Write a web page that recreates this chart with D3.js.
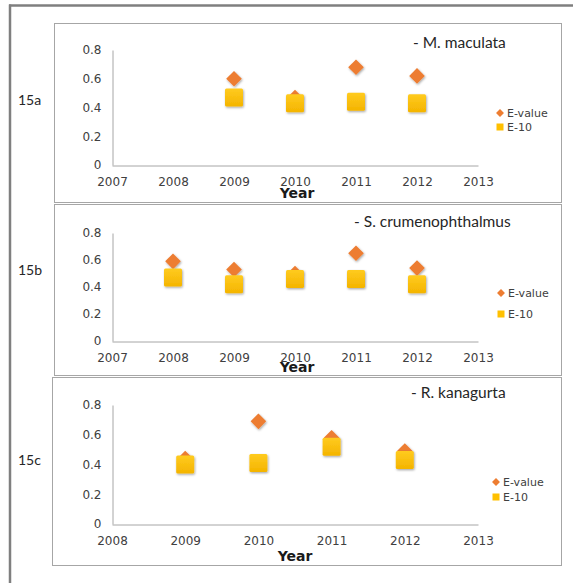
<!DOCTYPE html>
<html>
<head>
<meta charset="utf-8">
<script src="https://cdn.jsdelivr.net/npm/d3@7/dist/d3.min.js"></script>
<style>
  html, body { margin: 0; padding: 0; background: #fff; }
  svg { display: block; }
</style>
</head>
<body>
<script>
// E-values per species and year
const yearsA = [2009, 2010, 2011, 2012];
const eValueA = [0.60, 0.47, 0.68, 0.62];
const e10A = [0.47, 0.43, 0.44, 0.43];

const yearsB = [2008, 2009, 2010, 2011, 2012];
const eValueB = [0.59, 0.53, 0.50, 0.65, 0.54];
const e10B = [0.47, 0.42, 0.46, 0.46, 0.42];

const yearsC = [2009, 2010, 2011, 2012];
const eValueC = [0.44, 0.69, 0.58, 0.49];
const e10C = [0.40, 0.41, 0.52, 0.43];

const yTicks = [0, 0.2, 0.4, 0.6, 0.8];
const seriesNames = ["E-value", "E-10"];

const W = 573, H = 583;
const svg = d3.select("body").append("svg").attr("width", W).attr("height", H);

const defs = svg.append("defs");
const shadow = defs.append("filter").attr("id", "shadow")
  .attr("x", "-40%").attr("y", "-40%").attr("width", "180%").attr("height", "180%");
shadow.append("feDropShadow").attr("dx", 0.8).attr("dy", 1.2)
  .attr("stdDeviation", 1.2).attr("flood-color", "#000").attr("flood-opacity", 0.35);
const grad = defs.append("linearGradient").attr("id", "sqFill")
  .attr("x1", 0).attr("y1", 0).attr("x2", 0).attr("y2", 1);
grad.append("stop").attr("offset", "0%").attr("stop-color", "#FFCB1F");
grad.append("stop").attr("offset", "100%").attr("stop-color", "#F4B400");

// outer frame
svg.append("line").attr("x1", 9).attr("x2", W).attr("y1", 5.5).attr("y2", 5.5)
  .attr("stroke", "#7f7f7f").attr("stroke-width", 2.5);
svg.append("line").attr("x1", 10).attr("x2", 10).attr("y1", 4.5).attr("y2", H)
  .attr("stroke", "#7f7f7f").attr("stroke-width", 2.5);

const tickFont = "'DejaVu Sans', sans-serif";
const diamond = d3.symbol().type(d3.symbolDiamond2);

function drawPanel(p) {
  const g = svg.append("g");
  g.append("rect").attr("x", p.box[0] + 0.5).attr("y", p.box[1] + 0.5)
    .attr("width", p.box[2] - p.box[0]).attr("height", p.box[3] - p.box[1])
    .attr("fill", "#fff").attr("stroke", "#a6a6a6").attr("stroke-width", 1);

  const x = d3.scaleLinear().domain(p.xDomain).range([112, 478]);
  const y = d3.scaleLinear().domain([0, 0.8]).range([p.y0, p.y8]);

  // axes
  const yAxis = d3.axisLeft(y).tickValues(yTicks).tickSize(0).tickPadding(11)
    .tickFormat(d => d === 0 ? "0" : d3.format(".1f")(d));
  const ya = g.append("g").attr("transform", "translate(112.5,0)").call(yAxis);
  ya.select(".domain").attr("stroke", "#a6a6a6");
  ya.selectAll("text").attr("font-family", tickFont).attr("font-size", 12).attr("fill", "#404040");

  const xAxis = d3.axisBottom(x).ticks(p.xDomain[1] - p.xDomain[0]).tickSize(0)
    .tickPadding(12).tickFormat(d3.format("d"));
  const xa = g.append("g").attr("transform", `translate(0,${p.y0 + 0.5})`).call(xAxis);
  xa.select(".domain").attr("stroke", "#a6a6a6");
  xa.selectAll("text").attr("font-family", tickFont).attr("font-size", 12).attr("fill", "#404040");

  // E-value diamonds (behind), E-10 squares (front)
  g.append("g").selectAll("path").data(p.years.map((yr, i) => [yr, p.eValue[i]]))
    .join("path")
    .attr("d", diamond.size(155))
    .attr("transform", d => `translate(${x(d[0])},${y(d[1])})`)
    .attr("fill", "#ED7D31").attr("filter", "url(#shadow)");

  const s = 18;
  g.append("g").selectAll("rect").data(p.years.map((yr, i) => [yr, p.e10[i]]))
    .join("rect")
    .attr("x", d => x(d[0]) - s / 2).attr("y", d => y(d[1]) - s / 2)
    .attr("width", s).attr("height", s).attr("rx", 1.5)
    .attr("fill", "url(#sqFill)").attr("filter", "url(#shadow)");

  // axis title
  g.append("text").attr("x", p.yearX).attr("y", p.yearY).attr("text-anchor", "middle")
    .attr("font-family", tickFont).attr("font-weight", "bold").attr("font-size", 14)
    .attr("fill", "#1a1a1a").text("Year");

  // species label
  g.append("text").attr("x", p.titleX).attr("y", p.titleY)
    .attr("font-family", "Lato, 'Open Sans', sans-serif").attr("font-size", 15.5)
    .attr("fill", "#262626").text(p.title);

  // panel tag
  svg.append("text").attr("x", 18).attr("y", p.tagY)
    .attr("font-family", "Lato, sans-serif").attr("font-size", 14)
    .attr("fill", "#262626").text(p.tag);

  // legend
  const lg = g.append("g");
  lg.append("path").attr("d", diamond.size(40))
    .attr("transform", `translate(${p.legX},${p.legY1})`).attr("fill", "#ED7D31");
  lg.append("rect").attr("x", p.legX - 3.5).attr("y", p.legY2 - 3.5)
    .attr("width", 7).attr("height", 7).attr("fill", "#FFC000");
  [p.legY1, p.legY2].forEach((ly, i) => {
    lg.append("text").attr("x", p.legX + 7).attr("y", ly + 4)
      .attr("font-family", tickFont).attr("font-size", 11).attr("fill", "#404040")
      .text(seriesNames[i]);
  });
}

drawPanel({
  box: [54, 23, 561, 202], xDomain: [2007, 2013], y0: 165, y8: 50,
  years: yearsA, eValue: eValueA, e10: e10A,
  title: "- M. maculata", titleX: 413, titleY: 48, tag: "15a", tagY: 105,
  yearX: 297, yearY: 198, legX: 500, legY1: 113, legY2: 127
});
drawPanel({
  box: [54, 204, 561, 375], xDomain: [2007, 2013], y0: 341, y8: 233,
  years: yearsB, eValue: eValueB, e10: e10B,
  title: "- S. crumenophthalmus", titleX: 354, titleY: 227, tag: "15b", tagY: 275,
  yearX: 297, yearY: 372, legX: 501, legY1: 293, legY2: 314
});
drawPanel({
  box: [52, 377, 561, 565], xDomain: [2008, 2013], y0: 524, y8: 405,
  years: yearsC, eValue: eValueC, e10: e10C,
  title: "- R. kanagurta", titleX: 411, titleY: 398, tag: "15c", tagY: 465,
  yearX: 295, yearY: 561, legX: 496, legY1: 482, legY2: 497
});
</script>
</body>
</html>
